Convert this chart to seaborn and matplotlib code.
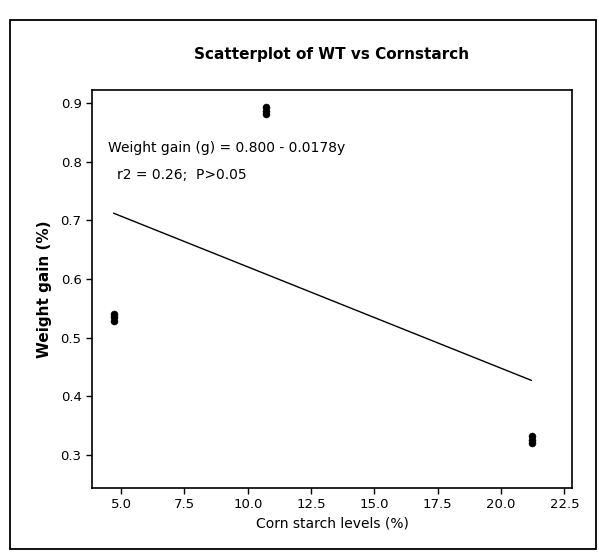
import matplotlib
matplotlib.use("Agg")
import matplotlib.pyplot as plt
import seaborn as sns
import pandas as pd
import numpy as np
from matplotlib.patches import Rectangle

# Data
corn_starch = [4.7, 4.7, 4.7, 10.7, 10.7, 10.7, 21.2, 21.2, 21.2]
weight_gain = [0.529, 0.535, 0.541, 0.881, 0.887, 0.893, 0.320, 0.326, 0.332]
x_ticks = [5.0, 7.5, 10.0, 12.5, 15.0, 17.5, 20.0, 22.5]
y_ticks = [0.3, 0.4, 0.5, 0.6, 0.7, 0.8, 0.9]
title = "Scatterplot of WT vs Cornstarch"
x_label = "Corn starch levels (%)"
y_label = "Weight gain (%)"
eq_text = "Weight gain (g) = 0.800 - 0.0178y"
stat_text = "r2 = 0.26;  P>0.05"

df = pd.DataFrame({"x": corn_starch, "y": weight_gain})

sns.set_theme(style="ticks")
plt.rcParams["font.family"] = ["DejaVu Sans"]
plt.rcParams["text.color"] = "black"
plt.rcParams["axes.labelcolor"] = "black"

fig = plt.figure(figsize=(5.99, 5.57), dpi=100)
fig.patch.set_facecolor("white")
# outer frame
fig.patches.append(Rectangle((0.017, 0.0144), 0.978, 0.95, transform=fig.transFigure,
                             fill=False, edgecolor="black", linewidth=1.3))

ax = fig.add_axes([0.1536, 0.1239, 0.8014, 0.7145])
sns.regplot(data=df, x="x", y="y", scatter=False, ci=None, ax=ax,
            line_kws={"color": "black", "linewidth": 1.0})
sns.scatterplot(data=df, x="x", y="y", ax=ax, color="black", s=26,
                edgecolor="black", linewidth=0.3)

ax.set_xlim(3.85, 22.8)
ax.set_ylim(0.244, 0.922)
ax.set_xticks(x_ticks)
ax.set_xticklabels([f"{v:.1f}" for v in x_ticks], fontsize=9.5)
ax.set_yticks(y_ticks)
ax.set_yticklabels([f"{v:.1f}" for v in y_ticks], fontsize=9.5)
ax.tick_params(direction="out", length=4, width=1, colors="black")
for s in ax.spines.values():
    s.set_visible(True)
    s.set_color("black")
    s.set_linewidth(1.2)

ax.set_xlabel(x_label, fontsize=10, labelpad=4)
ax.set_ylabel(y_label, fontsize=11, fontweight="bold", labelpad=6)
ax.set_title(title, fontsize=11, fontweight="bold", pad=22, color="black")

ax.text(4.49, 0.823, eq_text, fontsize=10, va="center", ha="left")
ax.text(4.84, 0.777, stat_text, fontsize=10, va="center", ha="left")

fig.savefig("out.png", dpi=100)
